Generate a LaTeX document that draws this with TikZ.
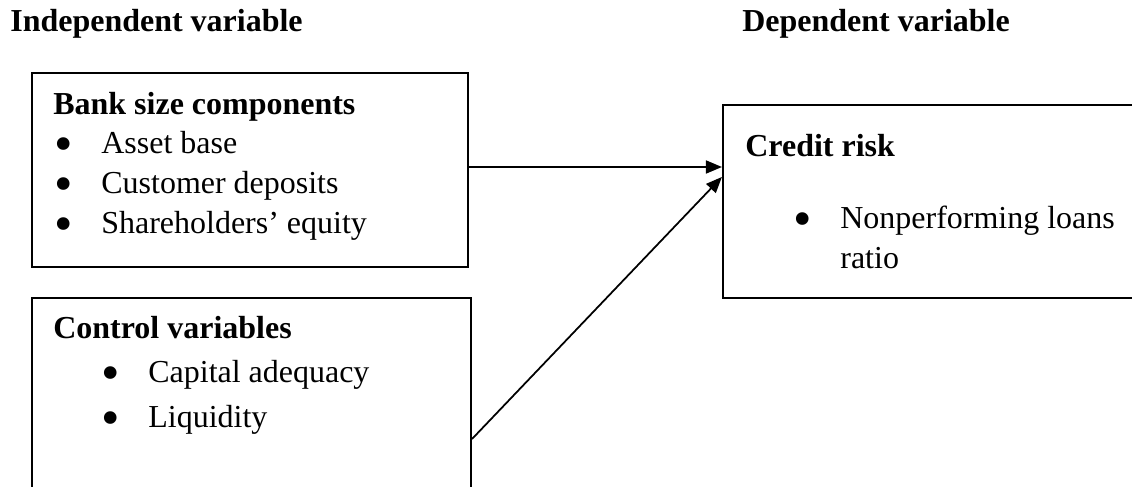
\documentclass[tikz,border=0pt]{standalone}
\usepackage{fontspec}
\setmainfont{Liberation Serif}
\usetikzlibrary{arrows.meta}
\newcommand{\bul}[1]{\makebox[0.96cm][l]{\hspace{0.02cm}\smash{\raisebox{-0.175cm}{\scalebox{1.65}{\textbullet}}}}#1}

\begin{document}
\begin{tikzpicture}[
    box/.style={draw, line width=1.2pt, rectangle, inner sep=0pt},
    txt/.style={anchor=base west, inner sep=0pt, font=\fontsize{18.2}{22}\selectfont},
    hdr/.style={txt, font=\fontsize{18.2}{22}\selectfont\bfseries},
    link/.style={line width=1pt, -{Triangle[length=3.2mm,width=2.6mm]}}
]
    \useasboundingbox (0,0) rectangle (22.64,9.72);
    \clip (0,0) rectangle (22.64,9.72);

    % Column headings
    \node[hdr] (indep) at (0.20,9.08) {Independent variable};
    \node[hdr] (dep) at (14.84,9.08) {Dependent variable};

    % Boxes
    \node[box, minimum width=8.72cm, minimum height=3.88cm] (size) at (5.00,6.32) {};
    \node[box, minimum width=8.78cm, minimum height=4.44cm] (ctrl) at (5.03,1.54) {};
    \node[box, minimum width=8.54cm, minimum height=3.86cm] (risk) at (18.73,5.69) {};

    % Bank size
    \node[hdr] (sizetitle) at (1.06,7.44) {Bank size components};
    \node[txt] (asset) at (1.06,6.66) {\bul{Asset base}};
    \node[txt] (deposit) at (1.06,5.86) {\bul{Customer deposits}};
    \node[txt] (equity) at (1.06,5.06) {\bul{Shareholders’ equity}};

    % Control variables
    \node[hdr] (ctrltitle) at (1.06,2.96) {Control variables};
    \node[txt] (capital) at (2.00,2.08) {\bul{Capital adequacy}};
    \node[txt] (liquid) at (2.00,1.18) {\bul{Liquidity}};

    % Credit risk
    \node[hdr] (risktitle) at (14.90,6.60) {Credit risk};
    \node[txt] (npl) at (15.84,5.16) {\bul{Nonperforming loans}};
    \node[txt] (ratio) at (16.80,4.36) {ratio};

    % Arrows
    \draw[link] ([yshift=0.06cm]size.east) -- ([yshift=0.06cm]size.east -| risk.west);
    \draw[link] ([yshift=-2.84cm]ctrl.north east) -- ([yshift=-1.46cm]risk.north west);
\end{tikzpicture}
\end{document}
